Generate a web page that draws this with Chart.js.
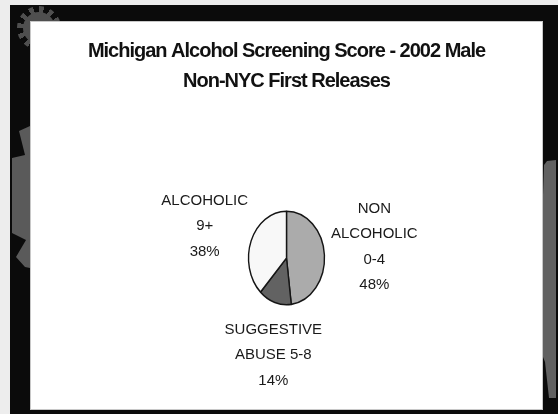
<!DOCTYPE html>
<html>
<head>
<meta charset="utf-8">
<script src="https://cdn.jsdelivr.net/npm/chart.js@4.4.1/dist/chart.umd.min.js"></script>
<style>
  html, body { margin: 0; padding: 0; }
  body { width: 558px; height: 414px; position: relative; overflow: hidden; background: #ededed; font-family: "Liberation Sans", Arial, sans-serif; }
  .frame { position: absolute; left: 10px; top: 5px; right: 0; bottom: 0; background: #0b0b0b; }
  .gear { position: absolute; left: 17px; top: 6px; width: 44px; height: 44px; border-radius: 50%;
          background: repeating-conic-gradient(#4f4f4f 0 14deg, transparent 14deg 30deg); }
  .gear-core { position: absolute; left: 23px; top: 12px; width: 32px; height: 32px; border-radius: 50%; background: #4f4f4f; }
  .deco-left { position: absolute; left: 0; top: 0; width: 40px; height: 300px; background: #5a5a5a;
               clip-path: polygon(19px 131px, 30px 126px, 30px 268px, 25px 267px, 16px 257px, 26px 240px, 12px 233px, 12px 158px, 25px 155px); }
  .deco-right { position: absolute; left: 540px; top: 0; width: 18px; height: 414px; background: #626262;
                clip-path: polygon(7px 161px, 16px 160px, 16px 398px, 9px 398px, 5px 362px, 3px 357px, 3px 195px, 4px 165px); }
  .panel { position: absolute; left: 31px; top: 22px; width: 511px; height: 387px; background: #fff; box-shadow: 0 0 0 1px #c8c8c8; }
</style>
</head>
<body>
<div class="frame"></div>
<div class="gear"></div>
<div class="gear-core"></div>
<div class="deco-left"></div>
<div class="deco-right"></div>
<div class="panel"><canvas id="pie" width="511" height="387"></canvas></div>
<script>
// data
const titleLines = ['Michigan Alcohol Screening Score - 2002 Male', 'Non-NYC First Releases'];
const categories = [
    ['NON', 'ALCOHOLIC', '0-4'],
    ['SUGGESTIVE', 'ABUSE 5-8'],
    ['ALCOHOLIC', '9+']
];
const shares = [48, 14, 38];
const sliceColors = ['#ababab', '#626262', '#f8f8f8'];

const STRETCH = 1.23;   // the slide's pie is an upright ellipse

// the slide's title font is set tight
const tightTitle = {
    id: 'tightTitle',
    beforeDraw(chart) {
        chart.ctx.letterSpacing = '-1px';
    },
    beforeDatasetsDraw(chart) {
        chart.ctx.letterSpacing = '0px';
    }
};

// squash the arcs vertically around the pie centre
const ellipsePlugin = {
    id: 'ellipse',
    beforeDatasetsDraw(chart) {
        const arc = chart.getDatasetMeta(0).data[0];
        const ctx = chart.ctx;
        ctx.save();
        ctx.translate(arc.x, arc.y);
        ctx.scale(1, STRETCH);
        ctx.translate(-arc.x, -arc.y);
    },
    afterDatasetsDraw(chart) {
        chart.ctx.restore();
    }
};

// outside labels, placed along each slice's middle angle
const sliceLabels = {
    id: 'sliceLabels',
    afterDraw(chart) {
        const ctx = chart.ctx;
        const nudge = [[0, -5], [14, 2], [0, 5]];
        ctx.save();
        ctx.letterSpacing = '0px';
        ctx.font = '15px "Liberation Sans", Arial, sans-serif';
        ctx.fillStyle = '#1a1a1a';
        ctx.textAlign = 'center';
        ctx.textBaseline = 'middle';
        chart.getDatasetMeta(0).data.forEach((arc, i) => {
            const mid = (arc.startAngle + arc.endAngle) / 2;
            const lines = categories[i].concat(shares[i] + '%');
            const cx = arc.x + Math.cos(mid) * 88 + nudge[i][0];
            const cy = arc.y + Math.sin(mid) * 100 + nudge[i][1];
            const lh = 25.5;
            lines.forEach((t, k) => {
                ctx.fillText(t, cx, cy + (k - (lines.length - 1) / 2) * lh);
            });
        });
        ctx.restore();
    }
};

new Chart(document.getElementById('pie'), {
    type: 'pie',
    data: {
        labels: categories.map(c => c.join(' ')),
        datasets: [{
            data: shares,
            backgroundColor: sliceColors,
            borderColor: '#151515',
            borderWidth: 1.4,
            radius: 38
        }]
    },
    options: {
        responsive: false,
        animation: false,
        layout: { padding: { top: 0, bottom: 50, left: 0, right: 0 } },
        plugins: {
            legend: { display: false },
            tooltip: { enabled: false },
            title: {
                display: true,
                text: titleLines,
                color: '#111',
                font: { family: '"Liberation Sans", Arial, sans-serif', size: 20, weight: 'bold', lineHeight: 1.5 },
                padding: { top: 14, bottom: 61 }
            }
        }
    },
    plugins: [tightTitle, ellipsePlugin, sliceLabels]
});
</script>
</body>
</html>
